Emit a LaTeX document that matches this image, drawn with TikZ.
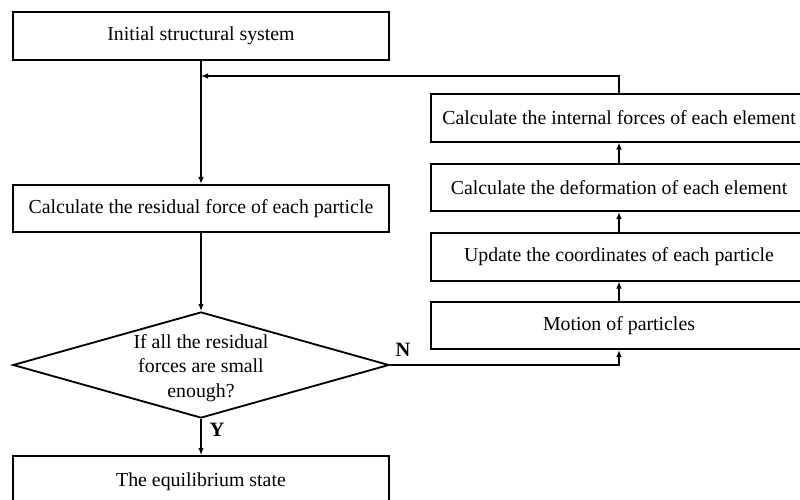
\documentclass[tikz,border=0pt]{standalone}
\usepackage{fontspec}
\setmainfont{Liberation Serif}
\usetikzlibrary{arrows.meta,shapes.geometric}

\begin{document}
\begin{tikzpicture}[x=0.025cm,y=-0.025cm,
  >={Latex[length=5pt,width=4pt]},
  every node/.style={font=\fontsize{14.1}{17.5}\selectfont},
  box/.style={draw,line width=1.3pt,minimum width=9.4cm,minimum height=1.18cm,inner sep=0pt},
  flow/.style={->,line width=1.1pt},
  lab/.style={font=\fontsize{14.5}{17}\selectfont\bfseries,inner sep=0pt}]
\useasboundingbox (0,0) rectangle (800,499);
\clip (0,0) rectangle (800,499);

% Left column
\node[box] (init) at (201,36) {Initial structural system};
\node[box] (resid) at (201,208.5) {Calculate the residual force of each particle};
\node[draw,diamond,line width=1.3pt,minimum width=9.4cm,minimum height=2.65cm,inner sep=0pt] (check) at (201,365) {};
\node[align=center] (checktext) at (201,368) {If all the residual\\forces are small\\enough?};
\node[box,minimum height=1.3cm] (equil) at (201,482) {The equilibrium state};

% Right column
\node[box] (force) at (619,118) {Calculate the internal forces of each element};
\node[box] (deform) at (619,187.5) {Calculate the deformation of each element};
\node[box] (update) at (619,257) {Update the coordinates of each particle};
\node[box] (motion) at (619,325.5) {Motion of particles};

% Connectors
\coordinate (join) at (201,76);
\draw[flow] (init) -- (resid);
\draw[flow] (resid) -- (check);
\draw[flow] (check) -- (equil);
\draw[flow] (check.east) -| (motion.south);
\draw[flow] (motion) -- (update);
\draw[flow] (update) -- (deform);
\draw[flow] (deform) -- (force);
\draw[flow] (force.north) |- (join);

% Labels
\node[lab] (ylab) at (217,430) {Y};
\node[lab] (nlab) at (403,350) {N};
\end{tikzpicture}
\end{document}
